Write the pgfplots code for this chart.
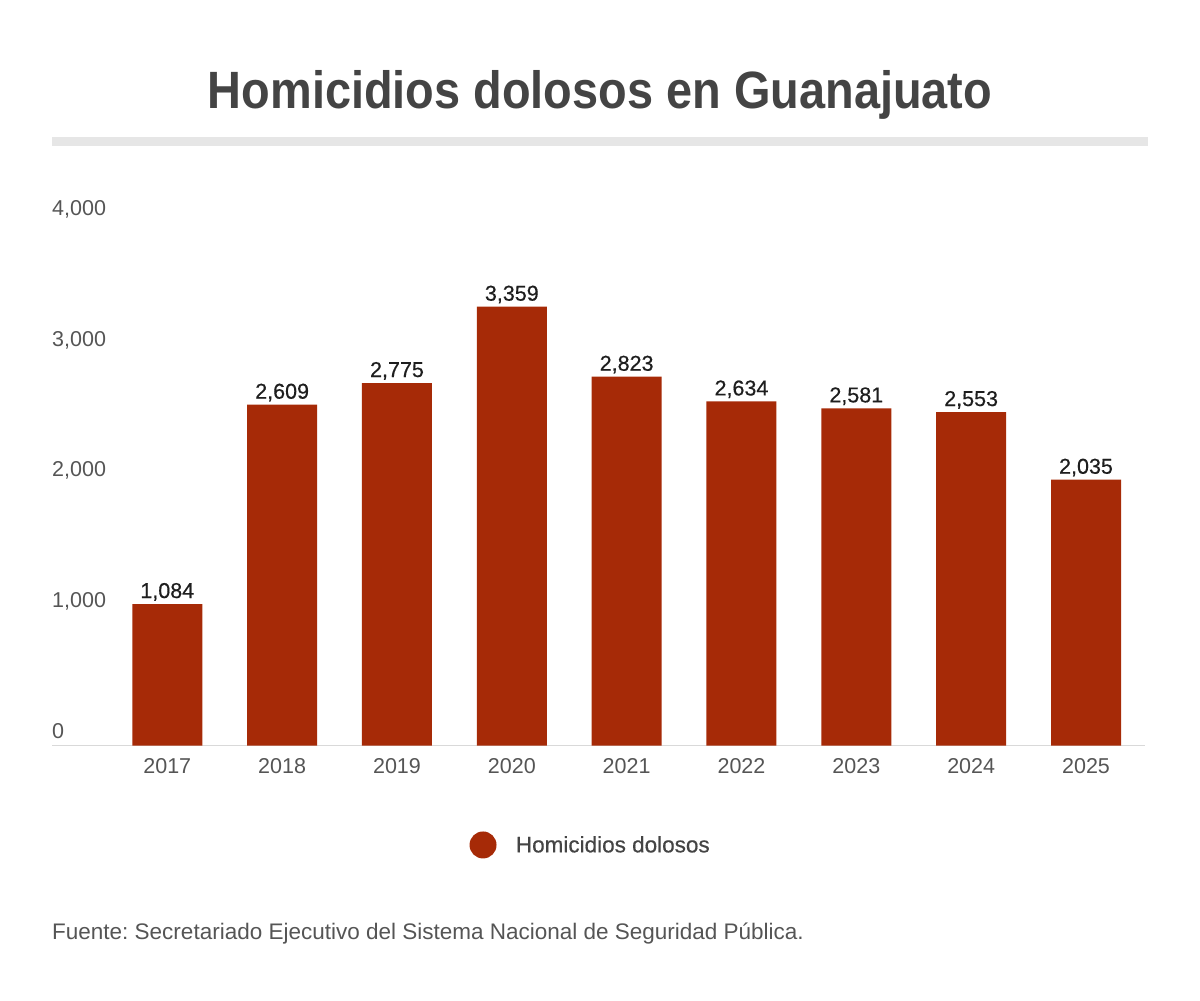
\documentclass[border=0pt]{standalone}
\usepackage{pgfplots}
\pgfplotsset{compat=1.18}
\usepackage{fontspec}
\setmainfont{Liberation Sans}
\newfontfamily\titlefont{Liberation Sans}[FakeStretch=0.893]
\newfontfamily\medfont{Liberation Sans}[FakeBold=0.5]
\definecolor{barred}{HTML}{A62A07}
\definecolor{titlegray}{HTML}{444444}
\definecolor{tickgray}{HTML}{555555}
\definecolor{rulegray}{HTML}{E6E6E6}
\definecolor{basegray}{HTML}{D9D9D9}
\definecolor{labelblack}{HTML}{1E1E1E}
\begin{document}
\frenchspacing
\begin{tikzpicture}[x=1pt,y=1pt]
\path[use as bounding box] (0,0) rectangle (1200,1001);
\fill[rulegray] (52,855) rectangle (1148,864.3);
\node[anchor=base, inner sep=0pt, text=titlegray, font=\titlefont\bfseries\fontsize{52.5}{60}\selectfont] at (600,892.7) {Homicidios dolosos en Guanajuato};
\node[anchor=base west, inner sep=0pt, text=tickgray, font=\fontsize{22.5}{26}\selectfont] at (52,61.7) {Fuente: Secretariado Ejecutivo del Sistema Nacional de Seguridad Pública.};
\begin{axis}[
  at={(52pt,255.3pt)}, anchor=south west,
  scale only axis, width=1093pt, height=522.8pt,
  xmin=-1.004, xmax=8.514, ymin=0, ymax=4000,
  axis lines*=left,
  x axis line style={draw=basegray, line width=1pt},
  y axis line style={draw=none},
  tick style={draw=none},
  xtick={0,1,2,3,4,5,6,7,8},
  xticklabels={2017,2018,2019,2020,2021,2022,2023,2024,2025},
  ytick={0,1000,2000,3000,4000},
  /pgf/number format/assume math mode=true,
  /pgf/number format/1000 sep={,},
  yticklabel style={anchor=base west, inner sep=0pt, yshift=7.5pt, text=tickgray, font=\fontsize{21.5}{24}\selectfont},
  xticklabel style={anchor=base, inner sep=0pt, yshift=-28.3pt, text=tickgray, font=\fontsize{21.5}{24}\selectfont},
  clip=false,
  legend style={draw=none, fill=none, at={(0.3818,-0.1899)}, anchor=west, inner sep=0pt,
    nodes={inner sep=0pt, text=titlegray, font=\medfont\fontsize{22.5}{26}\selectfont}},
  legend image code/.code={\fill[barred, draw=none] (13.5pt,0pt) circle (13.5pt); \path[draw=none, fill=none] (0pt,0pt) rectangle (46.4pt,0.1pt);},
]
\addplot[ybar, bar width=70pt, fill=barred, draw=none,
  nodes near coords={\pgfmathprintnumber[1000 sep={,}]{\pgfplotspointmeta}},
  every node near coord/.append style={anchor=base, inner sep=0pt, yshift=6pt, text=labelblack, font=\medfont\fontsize{21.5}{24}\selectfont}
] coordinates {
 (0,1084) (1,2609) (2,2775) (3,3359) (4,2823) (5,2634) (6,2581) (7,2553) (8,2035)
};
\addlegendentry{Homicidios dolosos}
\end{axis}
\end{tikzpicture}
\end{document}
